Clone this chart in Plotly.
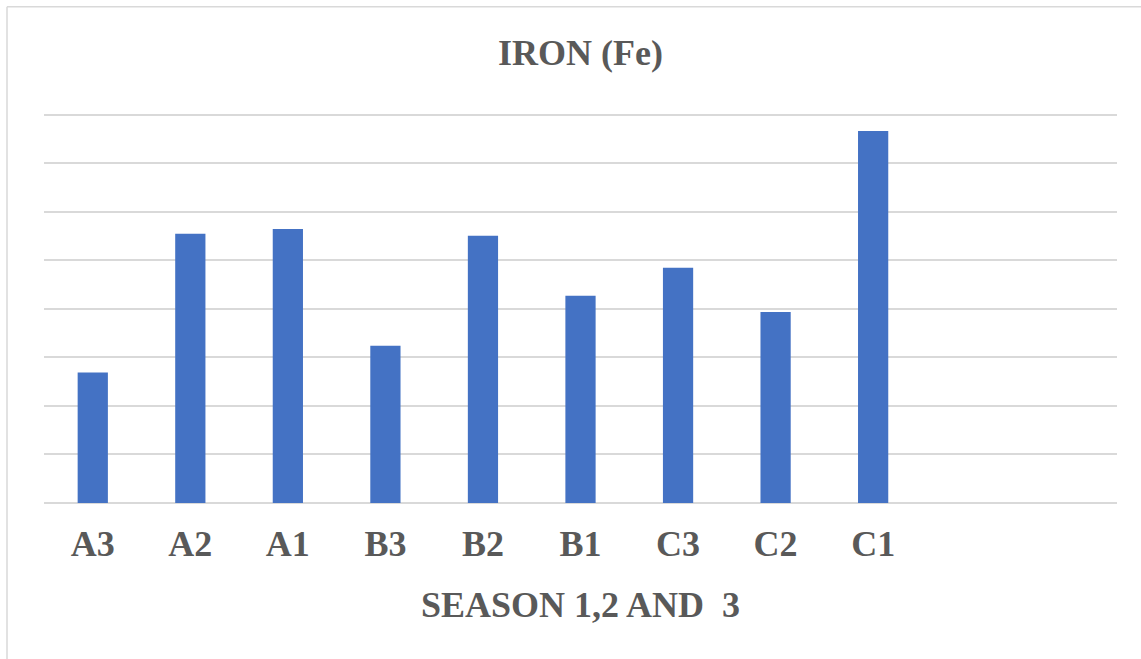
import plotly.graph_objects as go

categories = ["A3", "A2", "A1", "B3", "B2", "B1", "C3", "C2", "C1"]
iron_values = [2.69, 5.55, 5.65, 3.24, 5.51, 4.27, 4.85, 3.94, 7.67]
title_text = "IRON (Fe)"
x_title = "SEASON 1,2 AND  3"

W, H = 1141, 659
L, R, T, B = 44, 24, 113, 155.5
ph = H - T - B
pw = W - L - R
y_top = 8.04

font_family = "Liberation Serif, Times New Roman, serif"
txt_color = "#595959"
grid_color = "#d9d9d9"

fig = go.Figure(
    go.Bar(
        x=categories,
        y=iron_values,
        marker=dict(color="#4472C4", line=dict(width=0)),
        width=0.31,
        hoverinfo="x+y",
    )
)

fig.update_layout(
    width=W,
    height=H,
    margin=dict(l=L, r=R, t=T, b=B, pad=0),
    paper_bgcolor="white",
    plot_bgcolor="white",
    showlegend=False,
    title=dict(
        text="<b>%s</b>" % title_text,
        x=(L + (W - R)) / 2 / W,
        xanchor="center",
        y=1 - 52 / H,
        yanchor="middle",
        font=dict(family=font_family, size=36, color=txt_color),
    ),
    xaxis=dict(
        type="category",
        categoryorder="array",
        categoryarray=categories,
        range=[-0.5, 10.5],
        showgrid=False,
        showline=False,
        zeroline=False,
        ticks="",
        tickfont=dict(family=font_family, size=36, color=txt_color),
        ticklabelstandoff=16,
    ),
    yaxis=dict(
        range=[0, y_top],
        tick0=0,
        dtick=1,
        showticklabels=False,
        showgrid=True,
        gridcolor=grid_color,
        gridwidth=1.5,
        zeroline=True,
        zerolinecolor=grid_color,
        zerolinewidth=1.5,
        showline=False,
        ticks="",
    ),
    annotations=[
        dict(
            text="<b>%s</b>" % x_title,
            xref="paper",
            yref="paper",
            x=0.5,
            y=(H - B - 606) / ph,
            xanchor="center",
            yanchor="middle",
            showarrow=False,
            font=dict(family=font_family, size=36, color=txt_color),
        )
    ],
    shapes=[
        dict(type="line", xref="paper", yref="paper",
             x0=(7 - L) / pw, x1=1.2,
             y0=1 + (T - 6.5) / ph, y1=1 + (T - 6.5) / ph,
             line=dict(color=grid_color, width=1.5)),
        dict(type="line", xref="paper", yref="paper",
             x0=(7 - L) / pw, x1=(7 - L) / pw,
             y0=1 + (T - 6.5) / ph, y1=-1,
             line=dict(color=grid_color, width=1.5)),
    ],
)

fig.update_xaxes(tickvals=categories, ticktext=["<b>%s</b>" % c for c in categories])

fig.write_html(
    "out.html",
    config={"displayModeBar": False},
    post_script="document.body.style.margin='0';",
)
